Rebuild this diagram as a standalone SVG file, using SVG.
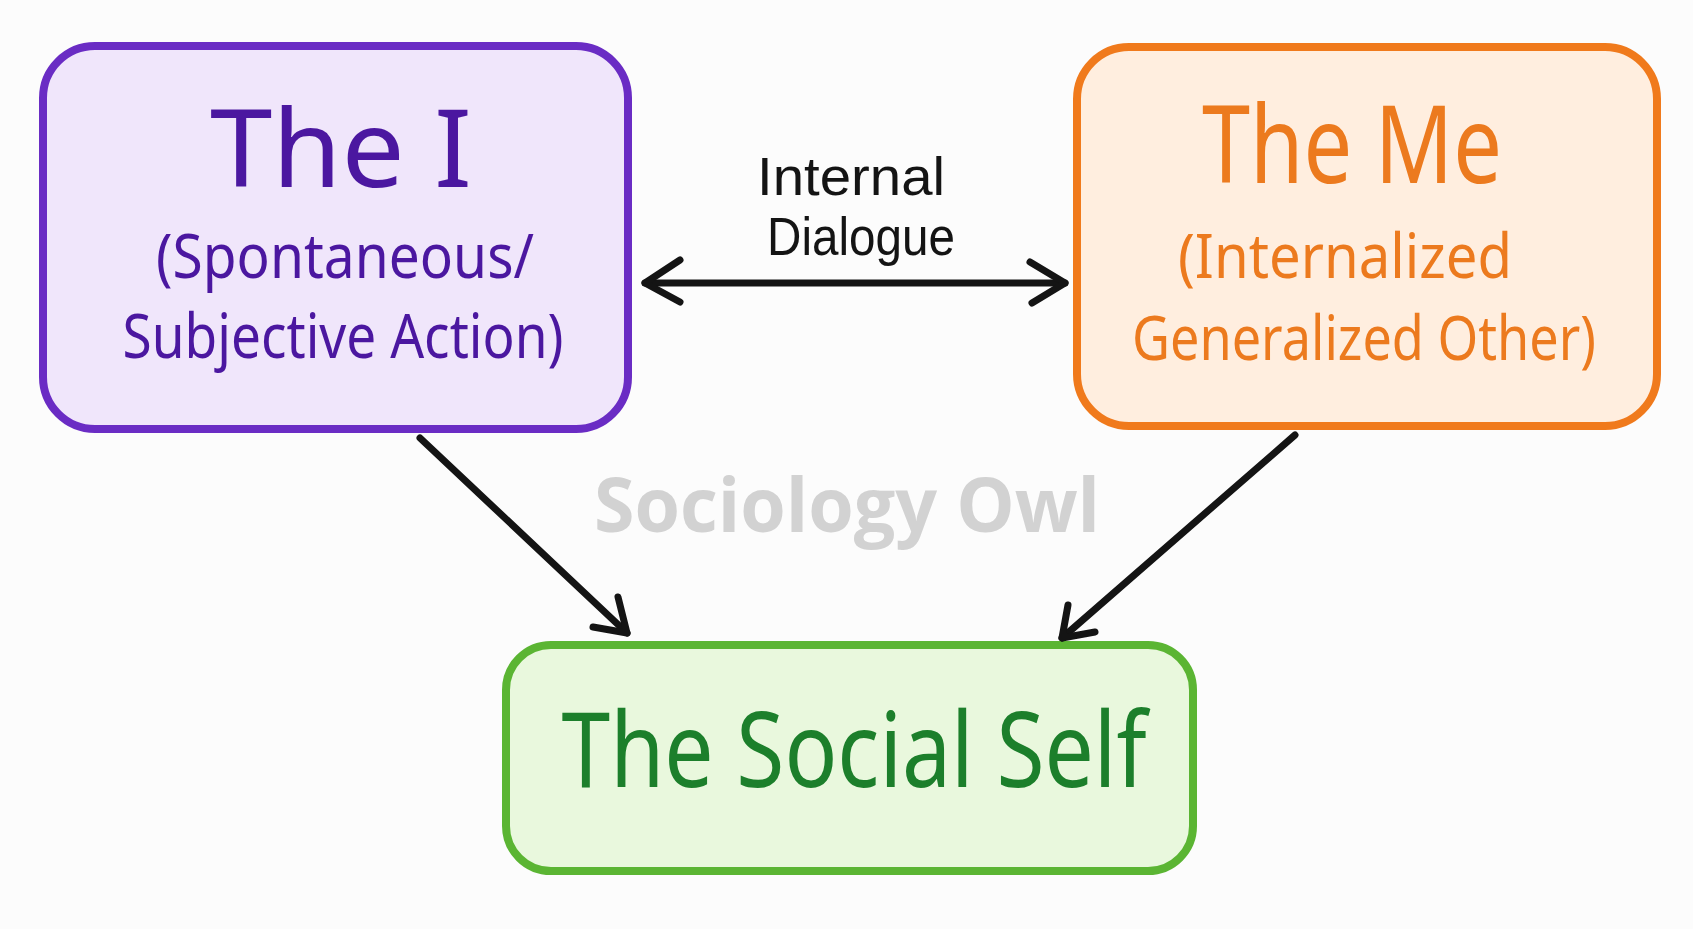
<svg xmlns="http://www.w3.org/2000/svg" width="1693" height="929" viewBox="0 0 1693 929">
  <style>
    .box { stroke-width: 8; }
    .lbl { font-family: "Noto Sans", "DejaVu Sans", sans-serif; text-anchor: middle; }
    .edge { font-family: "Liberation Sans", Arial, sans-serif; text-anchor: middle; fill: #141414; }
    .conn { fill: none; stroke: #141414; stroke-width: 7; stroke-linecap: round; stroke-linejoin: round; }
    .i-box { fill: #F0E6FB; stroke: #6A2CC4; }
    .i-txt { fill: #4B17A0; }
    .me-box { fill: #FFEEDF; stroke: #F07A1C; }
    .me-txt { fill: #EC7A1E; }
    .ss-box { fill: #E9F8DD; stroke: #5BB533; }
    .ss-txt { fill: #1C7F2B; }
    .wm { font-family: "Open Sans", "Lato", sans-serif; font-weight: bold; fill: #D2D2D2; text-anchor: middle; }
  </style>
  <rect width="1693" height="929" fill="#FCFCFC"/>

  <g id="node-i">
    <rect class="box i-box" x="43" y="46" width="585" height="383" rx="52"/>
    <text class="lbl i-txt" x="341" y="187" font-size="107" textLength="262" lengthAdjust="spacingAndGlyphs">The I</text>
    <text class="lbl i-txt" x="345" y="278" font-size="62" textLength="378" lengthAdjust="spacingAndGlyphs">(Spontaneous/</text>
    <text class="lbl i-txt" x="343" y="358" font-size="62" textLength="441" lengthAdjust="spacingAndGlyphs">Subjective Action)</text>
  </g>

  <g id="node-me">
    <rect class="box me-box" x="1077" y="47" width="580" height="379" rx="52"/>
    <text class="lbl me-txt" x="1352" y="183" font-size="107" textLength="300" lengthAdjust="spacingAndGlyphs">The Me</text>
    <text class="lbl me-txt" x="1345" y="278" font-size="62" textLength="334" lengthAdjust="spacingAndGlyphs">(Internalized</text>
    <text class="lbl me-txt" x="1364" y="360" font-size="62" textLength="464" lengthAdjust="spacingAndGlyphs">Generalized Other)</text>
  </g>

  <g id="node-social-self">
    <rect class="box ss-box" x="506" y="645" width="687" height="226" rx="45"/>
    <text class="lbl ss-txt" x="854" y="787" font-size="105" textLength="585" lengthAdjust="spacingAndGlyphs">The Social Self</text>
  </g>

  <text class="wm" x="847" y="532" font-size="75" textLength="506" lengthAdjust="spacingAndGlyphs">Sociology Owl</text>

  <g id="connectors">
    <path class="conn" d="M645 283 L1065 283"/>
    <path class="conn" d="M680 260 L645 283 L680 302"/>
    <path class="conn" d="M1030 262 L1065 283 L1032 303"/>
    <text class="edge" x="851" y="195" font-size="53" textLength="188" lengthAdjust="spacingAndGlyphs">Internal</text>
    <text class="edge" x="861" y="255" font-size="53" textLength="188" lengthAdjust="spacingAndGlyphs">Dialogue</text>

    <path class="conn" d="M420 438 L627 633"/>
    <path class="conn" d="M618 597 L627 633 L593 627"/>

    <path class="conn" d="M1295 435 L1062 638"/>
    <path class="conn" d="M1068 605 L1062 638 L1095 632"/>
  </g>
</svg>
